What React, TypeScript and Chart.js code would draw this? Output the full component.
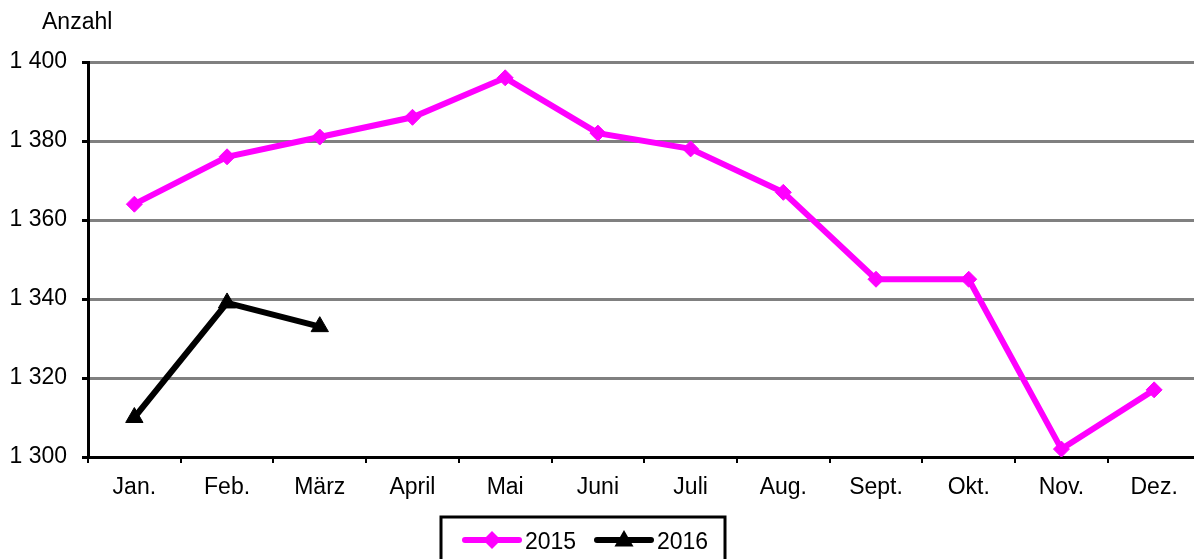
import React, { useEffect, useRef } from 'react';
import { Chart, registerables } from 'chart.js';

Chart.register(...registerables);

const months = ['Jan.', 'Feb.', 'März', 'April', 'Mai', 'Juni', 'Juli', 'Aug.', 'Sept.', 'Okt.', 'Nov.', 'Dez.'];
const values2015 = [1364, 1376, 1381, 1386, 1396, 1382, 1378, 1367, 1345, 1345, 1302, 1317];
const values2016 = [1310, 1339, 1333];
const seriesLabels = ['2015', '2016'];
const yTicks = [1300, 1320, 1340, 1360, 1380, 1400];
const yTitle = 'Anzahl';

const FONT = "'Liberation Sans', Arial, sans-serif";
const MAGENTA = '#FF00FF';

const fmt = (v: number) => `${Math.floor(v / 1000)} ${String(v % 1000).padStart(3, '0')}`;

function drawMarker(ctx: CanvasRenderingContext2D, style: string, x: number, y: number, r: number) {
  ctx.beginPath();
  if (style === 'rectRot') {
    ctx.moveTo(x - r, y);
    ctx.lineTo(x, y - r);
    ctx.lineTo(x + r, y);
    ctx.lineTo(x, y + r);
  } else {
    let rad = 0;
    ctx.moveTo(x + Math.sin(rad) * r, y - Math.cos(rad) * r);
    rad += (2 * Math.PI) / 3;
    ctx.lineTo(x + Math.sin(rad) * r, y - Math.cos(rad) * r);
    rad += (2 * Math.PI) / 3;
    ctx.lineTo(x + Math.sin(rad) * r, y - Math.cos(rad) * r);
  }
  ctx.closePath();
  ctx.fill();
}

const extrasPlugin = {
  id: 'extras',
  afterDraw(chart: any) {
    const ctx = chart.ctx as CanvasRenderingContext2D;
    ctx.save();
    // axis title
    ctx.fillStyle = '#000';
    ctx.font = `23px ${FONT}`;
    ctx.textBaseline = 'alphabetic';
    ctx.textAlign = 'left';
    ctx.fillText(yTitle, 42, 29);

    // legend
    const boxLeft = 441;
    const boxRight = 725;
    const boxTop = 517;
    ctx.strokeStyle = '#000';
    ctx.lineWidth = 3;
    ctx.strokeRect(boxLeft, boxTop, boxRight - boxLeft, 60);
    const cy = 540;
    let x = 465;
    chart.data.datasets.forEach((ds: any) => {
      ctx.strokeStyle = ds.borderColor;
      ctx.fillStyle = ds.borderColor;
      ctx.lineWidth = 6;
      ctx.lineCap = 'round';
      ctx.beginPath();
      ctx.moveTo(x, cy);
      ctx.lineTo(x + 54, cy);
      ctx.stroke();
      drawMarker(ctx, ds.pointStyle, x + 27, cy + (ds.pointStyle === 'triangle' ? 1 : 0), ds.pointRadius + 1);
      ctx.fillStyle = '#000';
      ctx.font = `23px ${FONT}`;
      ctx.fillText(ds.label, x + 60, 549);
      x += 132;
    });
    ctx.restore();
  },
};

export default function App() {
  const ref = useRef<HTMLCanvasElement>(null);
  useEffect(() => {
    document.body.style.margin = '0';
    document.body.style.overflow = 'hidden';
    document.documentElement.style.overflow = 'hidden';
    const canvas = ref.current!;
    const chart = new Chart(canvas, {
      type: 'line',
      data: {
        datasets: [
          {
            label: seriesLabels[0],
            data: values2015.map((v, i) => ({ x: i, y: v })),
            borderColor: MAGENTA,
            backgroundColor: MAGENTA,
            borderWidth: 6,
            pointStyle: 'rectRot',
            pointRadius: 8,
            pointBorderWidth: 1,
            tension: 0,
          },
          {
            label: seriesLabels[1],
            data: values2016.map((v, i) => ({ x: i, y: v })),
            borderColor: '#000000',
            backgroundColor: '#000000',
            borderWidth: 6,
            pointStyle: 'triangle',
            pointRadius: 10,
            pointBorderWidth: 1,
            tension: 0,
          },
        ],
      },
      options: {
        animation: false,
        responsive: false,
        devicePixelRatio: 1,
        layout: { autoPadding: false, padding: { top: 62, right: 0, left: 0, bottom: 57 } },
        plugins: { legend: { display: false }, tooltip: { enabled: false } },
        scales: {
          x: {
            type: 'linear',
            min: -0.5,
            max: 11.43,
            afterBuildTicks: (scale: any) => {
              scale.ticks = months.map((_, i) => ({ value: i }));
            },
            afterFit: (scale: any) => {
              scale.height = 45;
            },
            ticks: {
              autoSkip: false,
              maxRotation: 0,
              padding: 11,
              color: '#000',
              font: { family: FONT, size: 23 },
              callback: (v: any) => months[v as number] ?? '',
            },
            grid: {
              drawOnChartArea: false,
              offset: true,
              tickLength: 6,
              tickColor: '#000',
              lineWidth: 2,
            },
            border: { color: '#000', width: 3 },
          },
          y: {
            min: 1300,
            max: 1400,
            afterBuildTicks: (scale: any) => {
              scale.ticks = yTicks.map((v) => ({ value: v }));
            },
            afterFit: (scale: any) => {
              scale.width = 88;
            },
            ticks: {
              padding: 15,
              color: '#000',
              font: { family: FONT, size: 23 },
              callback: (v: any) => fmt(v as number),
            },
            grid: {
              color: (c: any) => (c.tick && c.tick.value === 1300 ? '#000' : '#808080'),
              lineWidth: 3,
              tickLength: 6,
              tickColor: '#000',
            },
            border: { color: '#000', width: 3 },
          },
        },
      },
      plugins: [extrasPlugin],
    });
    return () => chart.destroy();
  }, []);
  return (
    <div style={{ width: 1194, height: 559, overflow: 'hidden' }}>
      <canvas ref={ref} width={1194} height={559} style={{ display: 'block' }} />
    </div>
  );
}
